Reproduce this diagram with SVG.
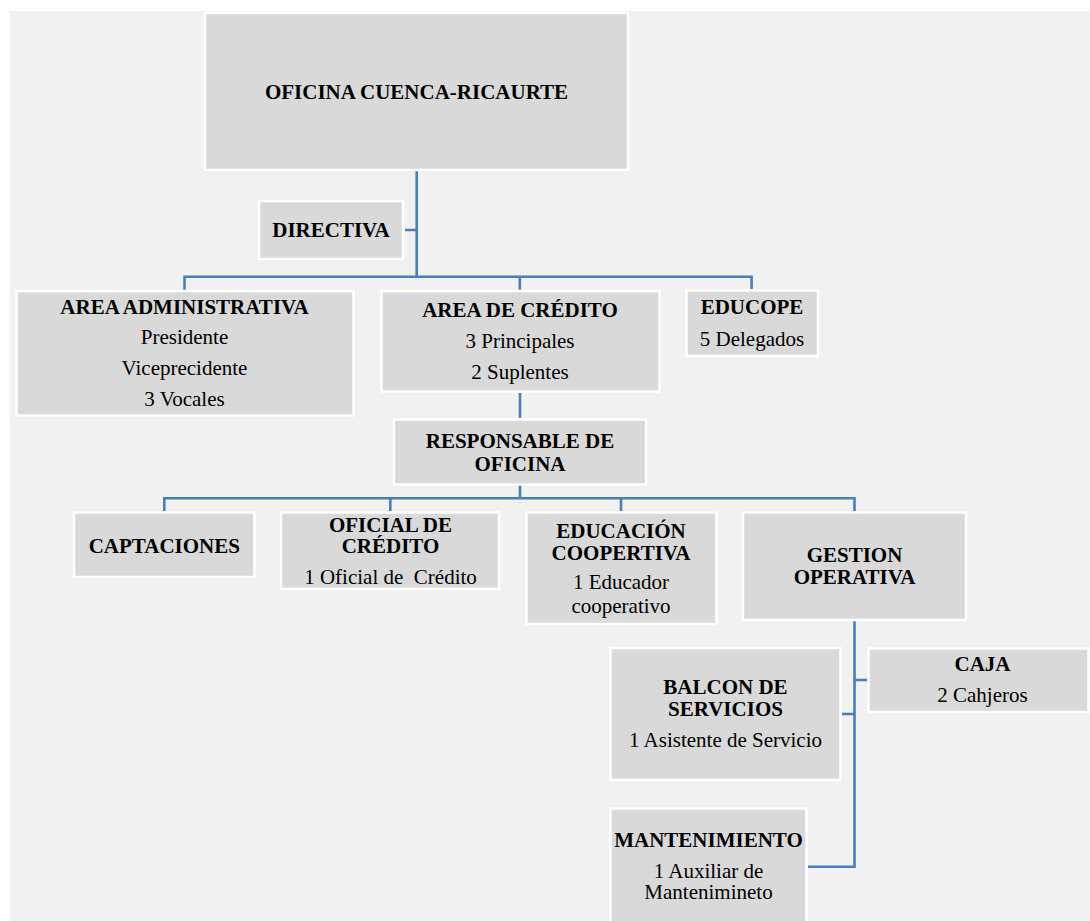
<svg xmlns="http://www.w3.org/2000/svg" width="1090" height="921" viewBox="0 0 1090 921">
<style>
.box{fill:#d9d9d9;stroke:#ffffff;stroke-width:2.5}
.t{font-family:"Liberation Serif","Times New Roman",serif;font-size:21px;fill:#000;text-anchor:middle}
.b{font-weight:bold}
.c{fill:none;stroke:#4a7ebb;stroke-width:2.6}
</style>
<rect x="0" y="0" width="1090" height="921" fill="#ffffff"/>
<rect x="10" y="11" width="1080" height="910" fill="#f1f1f1"/>
<g id="connectors">
<path class="c" d="M416.7 171V276.7M405 230H416.7M184.5 290V276.7H751.6V289M519.8 276.7V290"/>
<path class="c" d="M520 393V418M520 485V498.3M164.3 511V498.3H854.5V511M390.3 498.3V511M621 498.3V511"/>
<path class="c" d="M854.5 621V866.7H808M854.5 680H867M854.5 714H842"/>
</g>
<g id="oficina">
<rect class="box" x="205" y="13" width="423" height="157"/>
<text class="t b" x="416.5" y="98.5">OFICINA CUENCA-RICAURTE</text>
</g>
<g id="directiva">
<rect class="box" x="259" y="201" width="144" height="58"/>
<text class="t b" x="331" y="237">DIRECTIVA</text>
</g>
<g id="area-administrativa">
<rect class="box" x="16.5" y="291" width="337" height="124.5"/>
<text class="t b" x="184.5" y="314">AREA ADMINISTRATIVA</text>
<text class="t" x="184.5" y="344">Presidente</text>
<text class="t" x="184.5" y="375">Viceprecidente</text>
<text class="t" x="184.5" y="406">3 Vocales</text>
</g>
<g id="area-credito">
<rect class="box" x="381.5" y="291" width="278" height="100.5"/>
<text class="t b" x="520" y="317">AREA DE CRÉDITO</text>
<text class="t" x="520" y="348">3 Principales</text>
<text class="t" x="520" y="379">2 Suplentes</text>
</g>
<g id="educope">
<rect class="box" x="686.5" y="290.5" width="131.5" height="65.5"/>
<text class="t b" x="752" y="314">EDUCOPE</text>
<text class="t" x="752" y="345.5">5 Delegados</text>
</g>
<g id="responsable">
<rect class="box" x="394" y="419.5" width="252" height="65"/>
<text class="t b" x="520" y="448">RESPONSABLE DE</text>
<text class="t b" x="520" y="470.5">OFICINA</text>
</g>
<g id="captaciones">
<rect class="box" x="74" y="512.5" width="180.5" height="64.5"/>
<text class="t b" x="164.3" y="552.5">CAPTACIONES</text>
</g>
<g id="oficial-credito">
<rect class="box" x="281" y="512.5" width="218" height="76.5"/>
<text class="t b" x="390.5" y="531.5">OFICIAL DE</text>
<text class="t b" x="390.5" y="553.3">CRÉDITO</text>
<text class="t" x="390.5" y="584" xml:space="preserve">1 Oficial de  Crédito</text>
</g>
<g id="educacion-cooperativa">
<rect class="box" x="526.5" y="512.5" width="190" height="111.5"/>
<text class="t b" x="621" y="537.5">EDUCACIÓN</text>
<text class="t b" x="621" y="560">COOPERTIVA</text>
<text class="t" x="621" y="588.5">1 Educador</text>
<text class="t" x="621" y="613">cooperativo</text>
</g>
<g id="gestion-operativa">
<rect class="box" x="743" y="512.5" width="223" height="107.5"/>
<text class="t b" x="854.5" y="562">GESTION</text>
<text class="t b" x="854.5" y="583.7">OPERATIVA</text>
</g>
<g id="caja">
<rect class="box" x="868.5" y="648.5" width="220" height="63.5"/>
<text class="t b" x="982.5" y="670.5">CAJA</text>
<text class="t" x="982.5" y="701.5">2 Cahjeros</text>
</g>
<g id="balcon-servicios">
<rect class="box" x="610.5" y="648" width="230" height="132"/>
<text class="t b" x="725.5" y="694">BALCON DE</text>
<text class="t b" x="725.5" y="716">SERVICIOS</text>
<text class="t" x="725.5" y="746.5">1 Asistente de Servicio</text>
</g>
<g id="mantenimiento">
<rect class="box" x="610.5" y="808.5" width="196" height="114"/>
<text class="t b" x="708.5" y="846.5">MANTENIMIENTO</text>
<text class="t" x="708.5" y="877.5">1 Auxiliar de</text>
<text class="t" x="708.5" y="899.3">Mantenimineto</text>
</g>
</svg>
